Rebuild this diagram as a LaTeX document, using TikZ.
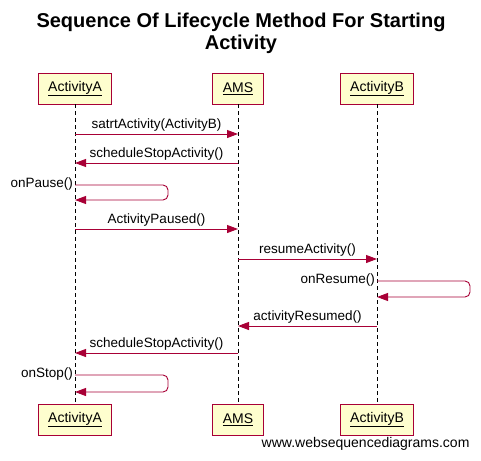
\documentclass[tikz,border=0pt]{standalone}
\usepackage{fontspec}
\setmainfont{Liberation Sans}
\usetikzlibrary{arrows.meta}
\definecolor{wsdred}{HTML}{A80036}
\definecolor{wsdyellow}{HTML}{FEFECE}

\begin{document}
\begin{tikzpicture}[x=1pt,y=-1pt, % pixel units, y axis down
    actor/.style={draw=wsdred, fill=wsdyellow, line width=0.9pt, minimum height=31pt,
      inner xsep=10pt, font=\fontsize{14}{16}\selectfont},
    life/.style={dash pattern=on 4pt off 3pt, line width=0.8pt},
    msg/.style={draw=wsdred, line width=0.9pt, -{Triangle[length=11pt,width=8pt]}},
    lbl/.style={font=\fontsize{13.5}{15}\selectfont, inner sep=2pt}]
  \fill[white] (0,0) rectangle (481,460);
  \useasboundingbox (0,0) rectangle (481,460);

  \node[font=\bfseries\fontsize{20}{22}\selectfont, align=center] (title) at (241,33)
    {Sequence Of Lifecycle Method For Starting\\Activity};

  % participants, top and bottom
  \node[actor] (a) at (75,88.5) {\underline{ActivityA}};
  \node[actor] (ams) at (238,88.5) {\underline{AMS}};
  \node[actor] (b) at (377,88.5) {\underline{ActivityB}};
  \node[actor] (a2) at (75,419.5) {\underline{ActivityA}};
  \node[actor] (ams2) at (238,419.5) {\underline{AMS}};
  \node[actor] (b2) at (377,419.5) {\underline{ActivityB}};
  \draw[life] (a) -- (a2);
  \draw[life] (ams) -- (ams2);
  \draw[life] (b) -- (b2);

  % messages
  \draw[msg] (a |- 0,134) -- node[lbl, above] {satrtActivity(ActivityB)} (ams |- 0,134);
  \draw[msg] (ams |- 0,163) -- node[lbl, above] {scheduleStopActivity()} (a |- 0,163);
  \draw[msg, rounded corners=5pt] (a |- 0,185) -- (168,185) -- (168,200) -- (a |- 0,200);
  \node[lbl, left] (pause) at (a |- 0,184) {onPause()};
  \draw[msg] (a |- 0,229) -- node[lbl, above] {ActivityPaused()} (ams |- 0,229);
  \draw[msg] (ams |- 0,259) -- node[lbl, above] {resumeActivity()} (b |- 0,259);
  \draw[msg, rounded corners=5pt] (b |- 0,281) -- (470,281) -- (470,297) -- (b |- 0,297);
  \node[lbl, left] (resume) at (b |- 0,280) {onResume()};
  \draw[msg] (b |- 0,326) -- node[lbl, above] {activityResumed()} (ams |- 0,326);
  \draw[msg] (ams |- 0,353) -- node[lbl, above] {scheduleStopActivity()} (a |- 0,353);
  \draw[msg, rounded corners=5pt] (a |- 0,375) -- (168,375) -- (168,392) -- (a |- 0,392);
  \node[lbl, left] (stop) at (a |- 0,374) {onStop()};

  \node[font=\fontsize{14}{16}\selectfont, anchor=east] (site) at (473,444) {www.websequencediagrams.com};
\end{tikzpicture}
\end{document}
